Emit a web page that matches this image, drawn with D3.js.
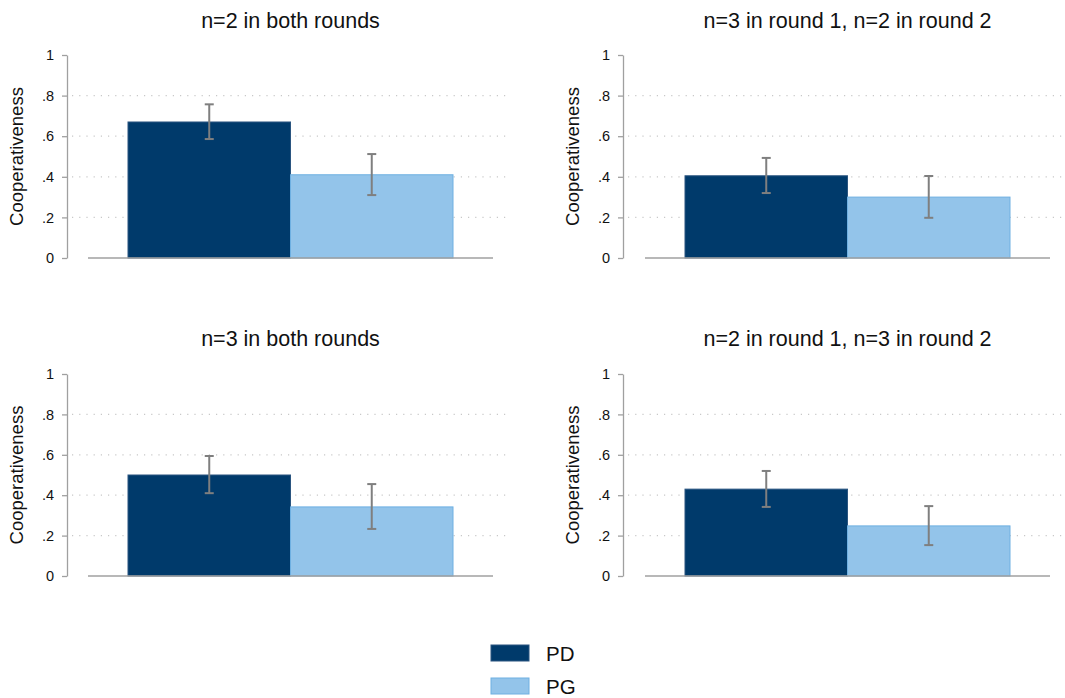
<!DOCTYPE html>
<html><head><meta charset="utf-8">
<script src="https://cdn.jsdelivr.net/npm/d3@7"></script>
<style>body{margin:0;background:#fff;} svg{display:block;font-family:"Liberation Sans",Arial,sans-serif;}</style>
</head><body>
<svg id="c" width="1065" height="698"></svg>
<script>
const panels = ["n=2 in both rounds", "n=3 in round 1, n=2 in round 2", "n=3 in both rounds", "n=2 in round 1, n=3 in round 2"];
const series = ["PD", "PG"];
const means = [[0.67, 0.41], [0.405, 0.30], [0.50, 0.342], [0.43, 0.248]];
const lower = [[0.586, 0.31], [0.32, 0.198], [0.41, 0.233], [0.342, 0.153]];
const upper = [[0.757, 0.512], [0.493, 0.404], [0.594, 0.455], [0.52, 0.346]];
const yTicks = [0, 0.2, 0.4, 0.6, 0.8, 1];
const yTickLabels = ["0", ".2", ".4", ".6", ".8", "1"];
const yLabel = "Cooperativeness";

const colors = {PD: "#003a6b", PG: "#93c4ea"};
const strokes = {PD: "#2a5580", PG: "#6eb0e2"};

const svg = d3.select("#c");
const layout = [
  {ax: 67, top: 55, bottom: 258, x0: 88, x1: 493, b0: 128, b1: 453, titleY: 28},
  {ax: 623, top: 55, bottom: 258, x0: 645, x1: 1050, b0: 685, b1: 1010, titleY: 28},
  {ax: 67, top: 374, bottom: 576, x0: 88, x1: 493, b0: 128, b1: 453, titleY: 346},
  {ax: 623, top: 374, bottom: 576, x0: 645, x1: 1050, b0: 685, b1: 1010, titleY: 346}
];

panels.forEach((title, i) => {
  const L = layout[i];
  const g = svg.append("g");
  const y = d3.scaleLinear().domain([0, 1]).range([L.bottom, L.top]);
  const x = d3.scaleBand().domain(series).range([L.b0, L.b1]).padding(0);

  // gridlines
  g.selectAll("line.grid").data(yTicks.filter(t => t > 0 && t < 1)).enter().append("line")
    .attr("x1", L.ax + 5).attr("x2", L.x1 + 17)
    .attr("y1", d => y(d)).attr("y2", d => y(d))
    .attr("stroke", "#c8c8c8").attr("stroke-width", 1.2).attr("stroke-dasharray", "1.2,6");

  // title
  g.append("text").attr("x", (L.x0 + L.x1) / 2).attr("y", L.titleY)
    .attr("text-anchor", "middle").attr("font-size", 21.5).attr("fill", "#111").text(title);

  // y axis
  const axis = d3.axisLeft(y).tickValues(yTicks).tickFormat((d, k) => yTickLabels[k]).tickSize(5).tickSizeOuter(0);
  const ag = g.append("g").attr("transform", `translate(${L.ax},0)`).call(axis);
  ag.select(".domain").attr("stroke", "#a0a0a0").attr("stroke-width", 1.3);
  ag.selectAll(".tick line").attr("stroke", "#a0a0a0").attr("stroke-width", 1.3);
  ag.selectAll(".tick text").attr("font-size", 14.5).attr("fill", "#111").attr("font-family", "Liberation Sans, Arial, sans-serif").attr("x", -13);

  // y label
  g.append("text").attr("transform", `translate(${L.ax - 44},${(L.top + L.bottom) / 2}) rotate(-90)`)
    .attr("text-anchor", "middle").attr("font-size", 18.5).attr("fill", "#111").text(yLabel);

  // bars
  series.forEach((s, j) => {
    g.append("rect").attr("x", x(s)).attr("width", x.bandwidth())
      .attr("y", y(means[i][j])).attr("height", y(0) - y(means[i][j]))
      .attr("fill", colors[s]).attr("stroke", strokes[s]).attr("stroke-width", 1);
  });

  // baseline
  g.append("line").attr("x1", L.x0).attr("x2", L.x1).attr("y1", y(0)).attr("y2", y(0))
    .attr("stroke", "#a0a0a0").attr("stroke-width", 1.6);

  // error bars
  series.forEach((s, j) => {
    const cx = x(s) + x.bandwidth() / 2;
    const eg = g.append("g").attr("stroke", "#7f7f7f").attr("stroke-width", 2);
    eg.append("line").attr("x1", cx).attr("x2", cx).attr("y1", y(lower[i][j])).attr("y2", y(upper[i][j]));
    eg.append("line").attr("x1", cx - 4.5).attr("x2", cx + 4.5).attr("y1", y(lower[i][j])).attr("y2", y(lower[i][j]));
    eg.append("line").attr("x1", cx - 4.5).attr("x2", cx + 4.5).attr("y1", y(upper[i][j])).attr("y2", y(upper[i][j]));
  });
});

// legend
const lg = svg.append("g");
series.forEach((s, j) => {
  const yy = 645 + j * 33;
  lg.append("rect").attr("x", 491).attr("y", yy).attr("width", 38).attr("height", 16)
    .attr("fill", colors[s]).attr("stroke", strokes[s]).attr("stroke-width", 1);
  lg.append("text").attr("x", 546).attr("y", yy + 16).attr("font-size", 20.5).attr("fill", "#111").text(s);
});
</script>
</body></html>
